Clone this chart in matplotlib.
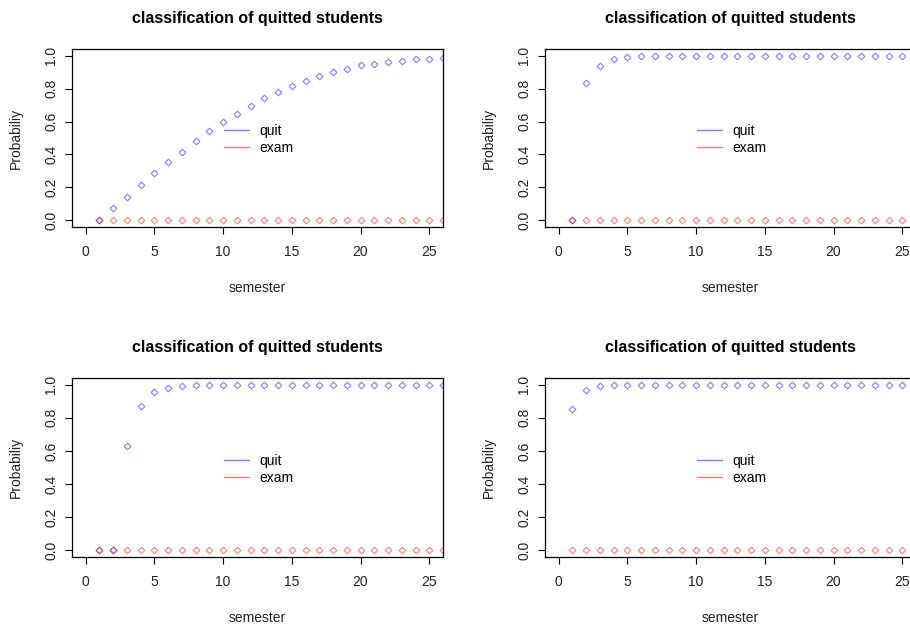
import matplotlib
matplotlib.use("Agg")
import matplotlib.pyplot as plt
from matplotlib.lines import Line2D

plt.rcParams['font.family'] = ['Liberation Sans', 'DejaVu Sans']

# semesters 1..26
semester = list(range(1, 27))

# probability to quit, one list per panel
quit_a = [0.0, 0.074, 0.143, 0.217, 0.286, 0.354, 0.416, 0.479, 0.541, 0.596,
          0.646, 0.696, 0.740, 0.777, 0.815, 0.845, 0.875, 0.901, 0.920, 0.940,
          0.952, 0.964, 0.970, 0.978, 0.982, 0.988]
quit_b = [0.0, 0.833, 0.937, 0.980, 0.993, 0.997] + [1.0] * 20
quit_c = [0.0, 0.0, 0.628, 0.869, 0.954, 0.980, 0.992] + [1.0] * 19
quit_d = [0.851, 0.966, 0.992] + [1.0] * 23

# probability of exam: zero everywhere
exam = [0.0] * 26

panels = [quit_a, quit_b, quit_c, quit_d]
x_ticks = [0, 5, 10, 15, 20, 25]
y_ticks = [0.0, 0.2, 0.4, 0.6, 0.8, 1.0]
y_tick_labels = ["0.0", "0.2", "0.4", "0.6", "0.8", "1.0"]

W, H = 910, 625
fig = plt.figure(figsize=(W / 100, H / 100), dpi=100)

# box positions in pixels: left, top, right, bottom
boxes = [(72, 49, 443, 227), (545, 49, 916, 227),
         (72, 378, 443, 557), (545, 378, 916, 557)]

for quit, (l, t, r, b) in zip(panels, boxes):
    ax = fig.add_axes([l / W, 1 - b / H, (r - l) / W, (b - t) / H])
    ax.plot(semester, quit, linestyle='none', marker='D', ms=3.4,
            mfc='none', mec='blue', mew=0.9, alpha=0.45)
    ax.plot(semester, exam, linestyle='none', marker='D', ms=3.4,
            mfc='none', mec='red', mew=0.9, alpha=0.45)
    ax.set_xlim(-1, 26)
    ax.set_ylim(-0.04, 1.04)
    ax.set_xticks(x_ticks)
    ax.set_yticks(y_ticks)
    ax.set_yticklabels(y_tick_labels, rotation=90, va='center')
    ax.tick_params(direction='out', length=5, width=0.8, labelsize=10,
                   labelcolor='#222222')
    ax.tick_params(axis='x', pad=8)
    ax.tick_params(axis='y', pad=5)
    for s in ax.spines.values():
        s.set_linewidth(0.9)
    ax.set_title("classification of quitted students", fontsize=11.5,
                 fontweight='bold', pad=19)
    ax.set_xlabel("semester", fontsize=10, labelpad=16, color='#222222')
    ax.set_ylabel("Probabiliy", fontsize=10, labelpad=15, color='#222222')
    handles = [Line2D([], [], color='blue', alpha=0.5, lw=1),
               Line2D([], [], color='red', alpha=0.5, lw=1)]
    ax.legend(handles, ["quit", "exam"], loc='center left',
              bbox_to_anchor=(0.375, 0.49), frameon=False, fontsize=10,
              handlelength=1.8, handletextpad=0.8, labelspacing=0.22)

fig.savefig("out.png", dpi=100)
